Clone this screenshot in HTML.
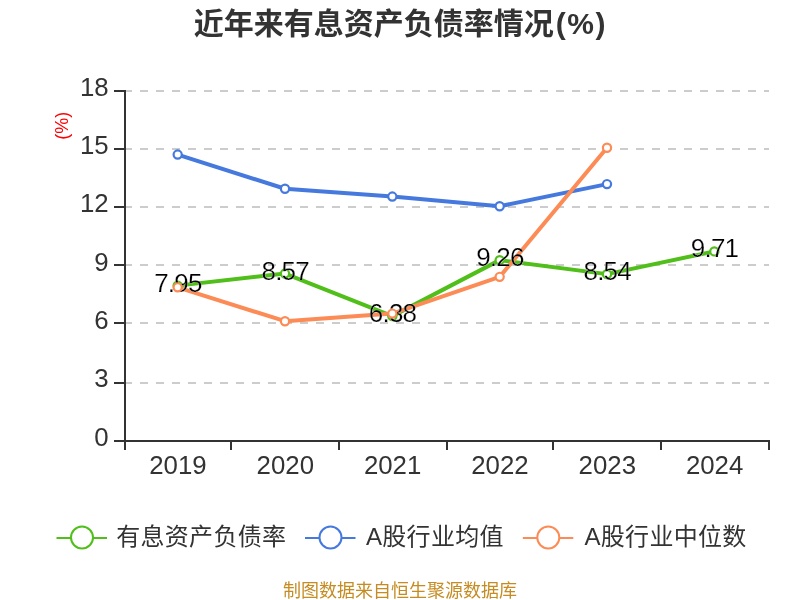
<!DOCTYPE html>
<html lang="zh-CN"><head><meta charset="utf-8"><title>近年来有息资产负债率情况(%)</title>
<style>
html,body{margin:0;padding:0;background:#fff;}
body{width:800px;height:600px;overflow:hidden;position:relative;font-family:"Liberation Sans","Noto Sans CJK SC",sans-serif;}
svg{position:absolute;left:0;top:0;display:block}
text{font-family:"Liberation Sans","Noto Sans CJK SC",sans-serif;}
.title{font-size:30px;font-weight:bold;fill:#333;}
.ax{font-size:25.8px;fill:#333;}
.lb{font-size:26px;fill:#000;stroke:#fff;stroke-width:0.2px;letter-spacing:-0.8px;}
.lg{font-size:24px;fill:#333;letter-spacing:0.3px;}
.ft{font-size:18px;fill:#c48c22;}
.unit{font-size:18px;fill:#ff0000;}
</style></head><body>
<svg width="800" height="600" viewBox="0 0 800 600">
<text class="title" x="193.7" y="33.8">近年来有息资产负债率情况<tspan dx="2" letter-spacing="1.6">(%)</tspan></text>
<line x1="124" y1="383" x2="769" y2="383" stroke="#ccc" stroke-width="2" stroke-dasharray="8 8"/>
<line x1="124" y1="323" x2="769" y2="323" stroke="#ccc" stroke-width="2" stroke-dasharray="8 8"/>
<line x1="124" y1="265" x2="769" y2="265" stroke="#ccc" stroke-width="2" stroke-dasharray="8 8"/>
<line x1="124" y1="207" x2="769" y2="207" stroke="#ccc" stroke-width="2" stroke-dasharray="8 8"/>
<line x1="124" y1="149" x2="769" y2="149" stroke="#ccc" stroke-width="2" stroke-dasharray="8 8"/>
<line x1="124" y1="91" x2="769" y2="91" stroke="#ccc" stroke-width="2" stroke-dasharray="8 8"/>
<line x1="125" y1="90" x2="125" y2="442" stroke="#333" stroke-width="2"/>
<line x1="124" y1="441" x2="770" y2="441" stroke="#333" stroke-width="2"/>
<line x1="114" y1="441" x2="125" y2="441" stroke="#333" stroke-width="2"/>
<text class="ax" x="108.7" y="445.50" text-anchor="end">0</text>
<line x1="114" y1="383" x2="125" y2="383" stroke="#333" stroke-width="2"/>
<text class="ax" x="108.7" y="387.17" text-anchor="end">3</text>
<line x1="114" y1="323" x2="125" y2="323" stroke="#333" stroke-width="2"/>
<text class="ax" x="108.7" y="328.83" text-anchor="end">6</text>
<line x1="114" y1="265" x2="125" y2="265" stroke="#333" stroke-width="2"/>
<text class="ax" x="108.7" y="270.50" text-anchor="end">9</text>
<line x1="114" y1="207" x2="125" y2="207" stroke="#333" stroke-width="2"/>
<text class="ax" x="108.7" y="212.17" text-anchor="end">12</text>
<line x1="114" y1="149" x2="125" y2="149" stroke="#333" stroke-width="2"/>
<text class="ax" x="108.7" y="153.83" text-anchor="end">15</text>
<line x1="114" y1="91" x2="125" y2="91" stroke="#333" stroke-width="2"/>
<text class="ax" x="108.7" y="95.50" text-anchor="end">18</text>
<line x1="125" y1="441" x2="125" y2="450" stroke="#333" stroke-width="2"/>
<line x1="231" y1="441" x2="231" y2="450" stroke="#333" stroke-width="2"/>
<line x1="339" y1="441" x2="339" y2="450" stroke="#333" stroke-width="2"/>
<line x1="447" y1="441" x2="447" y2="450" stroke="#333" stroke-width="2"/>
<line x1="553" y1="441" x2="553" y2="450" stroke="#333" stroke-width="2"/>
<line x1="661" y1="441" x2="661" y2="450" stroke="#333" stroke-width="2"/>
<line x1="769" y1="441" x2="769" y2="450" stroke="#333" stroke-width="2"/>
<text class="ax" x="177.97" y="474" text-anchor="middle">2019</text>
<text class="ax" x="285.30" y="474" text-anchor="middle">2020</text>
<text class="ax" x="392.63" y="474" text-anchor="middle">2021</text>
<text class="ax" x="499.97" y="474" text-anchor="middle">2022</text>
<text class="ax" x="607.30" y="474" text-anchor="middle">2023</text>
<text class="ax" x="714.63" y="474" text-anchor="middle">2024</text>
<text class="unit" transform="translate(68.2,125.8) rotate(-90)" text-anchor="middle">(%)</text>
<polyline points="177.67,285.62 285.00,273.56 392.33,316.14 499.67,260.14 607.00,274.14 714.33,251.39" fill="none" stroke="#50bf1a" stroke-width="4" stroke-linejoin="bevel"/>
<polyline points="177.67,154.56 285.00,188.78 392.33,196.56 499.67,206.28 607.00,184.12" fill="none" stroke="#4679de" stroke-width="4" stroke-linejoin="bevel"/>
<polyline points="177.67,287.37 285.00,321.20 392.33,313.62 499.67,276.87 607.00,147.76" fill="none" stroke="#fc8b56" stroke-width="4" stroke-linejoin="bevel"/>
<circle cx="177.67" cy="285.62" r="4.1" fill="#fff" stroke="#50bf1a" stroke-width="2.2"/>
<circle cx="285.00" cy="273.56" r="4.1" fill="#fff" stroke="#50bf1a" stroke-width="2.2"/>
<circle cx="392.33" cy="316.14" r="4.1" fill="#fff" stroke="#50bf1a" stroke-width="2.2"/>
<circle cx="499.67" cy="260.14" r="4.1" fill="#fff" stroke="#50bf1a" stroke-width="2.2"/>
<circle cx="607.00" cy="274.14" r="4.1" fill="#fff" stroke="#50bf1a" stroke-width="2.2"/>
<circle cx="714.33" cy="251.39" r="4.1" fill="#fff" stroke="#50bf1a" stroke-width="2.2"/>
<text class="lb" x="177.87" y="291.62" text-anchor="middle">7.95</text>
<text class="lb" x="285.20" y="279.56" text-anchor="middle">8.57</text>
<text class="lb" x="392.53" y="322.14" text-anchor="middle">6.38</text>
<text class="lb" x="499.87" y="266.14" text-anchor="middle">9.26</text>
<text class="lb" x="607.20" y="280.14" text-anchor="middle">8.54</text>
<text class="lb" x="714.53" y="257.39" text-anchor="middle">9.71</text>
<circle cx="177.67" cy="154.56" r="4.1" fill="#fff" stroke="#4679de" stroke-width="2.2"/>
<circle cx="285.00" cy="188.78" r="4.1" fill="#fff" stroke="#4679de" stroke-width="2.2"/>
<circle cx="392.33" cy="196.56" r="4.1" fill="#fff" stroke="#4679de" stroke-width="2.2"/>
<circle cx="499.67" cy="206.28" r="4.1" fill="#fff" stroke="#4679de" stroke-width="2.2"/>
<circle cx="607.00" cy="184.12" r="4.1" fill="#fff" stroke="#4679de" stroke-width="2.2"/>
<circle cx="177.67" cy="287.37" r="4.1" fill="#fff" stroke="#fc8b56" stroke-width="2.2"/>
<circle cx="285.00" cy="321.20" r="4.1" fill="#fff" stroke="#fc8b56" stroke-width="2.2"/>
<circle cx="392.33" cy="313.62" r="4.1" fill="#fff" stroke="#fc8b56" stroke-width="2.2"/>
<circle cx="499.67" cy="276.87" r="4.1" fill="#fff" stroke="#fc8b56" stroke-width="2.2"/>
<circle cx="607.00" cy="147.76" r="4.1" fill="#fff" stroke="#fc8b56" stroke-width="2.2"/>
<line x1="56.5" y1="538" x2="107" y2="538" stroke="#50bf1a" stroke-width="2"/><circle cx="82" cy="537.5" r="11" fill="#fff" stroke="#50bf1a" stroke-width="2"/><text class="lg" x="116.2" y="544.6">有息资产负债率</text>
<line x1="305.0" y1="538" x2="355.5" y2="538" stroke="#4679de" stroke-width="2"/><circle cx="330.5" cy="537.5" r="11" fill="#fff" stroke="#4679de" stroke-width="2"/><text class="lg" x="366" y="544.6">A股行业均值</text>
<line x1="522.8" y1="538" x2="573.3" y2="538" stroke="#fc8b56" stroke-width="2"/><circle cx="548.3" cy="537.5" r="11" fill="#fff" stroke="#fc8b56" stroke-width="2"/><text class="lg" x="584.5" y="544.6">A股行业中位数</text>
<text class="ft" x="400" y="597" text-anchor="middle">制图数据来自恒生聚源数据库</text>
</svg></body></html>
